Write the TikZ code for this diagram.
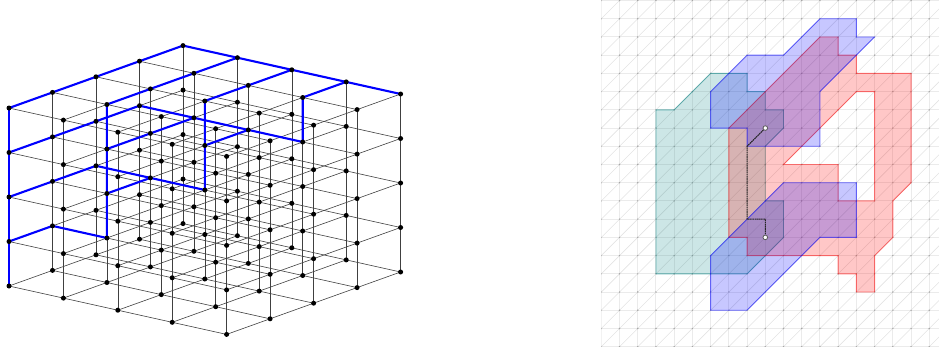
\documentclass[tikz,border=0pt]{standalone}
\tikzset{
  gridedge/.style={line width=0.6pt,draw=black!75},
  blueedge/.style={line width=2.1pt,draw=blue,line cap=round},
  dotnode/.style={circle,fill=black,inner sep=0pt,minimum size=5pt},
  mesh/.style={line width=1pt,draw=black!8},
  meshdiag/.style={line width=0.6pt,draw=black!11},
  tealpoly/.style={fill=teal,fill opacity=0.2,draw=teal,draw opacity=0.55,line width=0.9pt,line join=miter},
  redpoly/.style={fill=red,fill opacity=0.22,draw=red,draw opacity=0.5,line width=0.9pt,even odd rule},
  bluepoly/.style={fill=blue,fill opacity=0.22,draw=blue,draw opacity=0.55,line width=0.9pt},
  pathline/.style={line width=1pt,draw=black!85,dash pattern=on 1.6pt off 0.6pt},
  endnode/.style={circle,draw=black!65,fill=white,line width=0.8pt,inner sep=0pt,minimum size=4.6pt}
}
\begin{document}
\begin{tikzpicture}[x=1pt,y=-1pt]
\useasboundingbox (0,0) rectangle (939,351);
% ---------- left: 5x5x5 lattice ----------
\foreach \i in {0,...,4}\foreach \j in {0,...,4}\foreach \k in {0,...,4}{
  \pgfmathsetmacro{\px}{9+54.4*\i+43.5*\j}
  \pgfmathsetmacro{\py}{108+12.1*\i-15.6*\j+44.5*\k}
  \coordinate (c-\i-\j-\k) at (\px,\py);
}
\foreach \a in {0,...,4}\foreach \b in {0,...,4}{
  \draw[gridedge] (c-\a-\b-0) -- (c-\a-\b-4);
  \draw[gridedge] (c-\a-0-\b) -- (c-\a-4-\b);
  \draw[gridedge] (c-0-\a-\b) -- (c-4-\a-\b);
}
% blue edges
\draw[blueedge] (c-0-0-0) -- (c-0-4-0) -- (c-4-4-0);
\draw[blueedge] (c-0-0-0) -- (c-0-0-4);
\draw[blueedge] (c-1-1-3) -- (c-1-1-0) -- (c-1-4-0);
\draw[blueedge] (c-2-2-2) -- (c-2-2-0) -- (c-2-4-0);
\draw[blueedge] (c-3-4-0) -- (c-3-3-0) -- (c-3-3-1) -- (c-0-3-1) -- (c-0-0-1);
\draw[blueedge] (c-1-1-1) -- (c-1-3-1);
\draw[blueedge] (c-2-2-1) -- (c-2-3-1);
\draw[blueedge] (c-0-0-2) -- (c-0-2-2) -- (c-2-2-2);
\draw[blueedge] (c-1-1-2) -- (c-1-2-2);
\draw[blueedge] (c-0-0-3) -- (c-0-1-3) -- (c-1-1-3);
\foreach \i in {0,...,4}\foreach \j in {0,...,4}\foreach \k in {0,...,4}{
  \node[dotnode] (n-\i-\j-\k) at (c-\i-\j-\k) {};
}
% ---------- right: triangular mesh and polygons ----------
\begin{scope}[shift={(601.3,346.7)},x=18.22pt,y=18.22pt]
  \begin{scope}
    \clip (0,0) rectangle (18.6,19.1);
    \foreach \c in {-18,...,19}{
      \draw[meshdiag] (0,\c) -- (20,\c+20);
    }
    \foreach \i in {0,...,18}{ \draw[mesh] (\i,0) -- (\i,19.1); }
    \foreach \k in {0,...,19}{ \draw[mesh] (0,\k) -- (18.6,\k); }
    \foreach \i in {0,...,18}\foreach \k in {0,...,19}{
      \fill[black!35] (\i,\k) circle (0.8pt);
    }
  \end{scope}
  \path[tealpoly] (3,13) -- (4,13) -- (6,15) -- (8,15) -- (8,14) -- (9,14) -- (9,13) -- (10,13) -- (10,12) -- (9,11) -- (9,8) -- (10,8) -- (10,6) -- (8,4) -- (3,4) -- cycle;
  \path[redpoly] (12,17) -- (13,17) -- (13,16) -- (14,16) -- (14,15) -- (17,15) -- (17,9) -- (16,8) -- (16,6) -- (15,5) -- (15,3) -- (14,3) -- (14,4) -- (13,4) -- (13,5) -- (8,5) -- (8,6) -- (7,6) -- (7,12) -- cycle
     (14,14) -- (15,14) -- (15,8) -- (13,8) -- (13,10) -- (10,10) -- cycle;
  \path[bluepoly] (6,14) -- (8,16) -- (10,16) -- (12,18) -- (14,18) -- (14,17) -- (15,17) -- (12,14) -- (12,11) -- (8,11) -- (8,12) -- (6,12) -- cycle;
  \path[bluepoly] (6,5) -- (10,9) -- (14,9) -- (14,6) -- (12,6) -- (8,2) -- (6,2) -- cycle;
  \coordinate (q1) at (8,11);
  \coordinate (q2) at (8,7);
  \coordinate (q3) at (9,7);
  \node[endnode] (p1) at (9,12) {};
  \node[endnode] (p2) at (9,6) {};
  \draw[pathline] (p1) -- (q1) -- (q2) -- (q3) -- (p2);
\end{scope}
\end{tikzpicture}
\end{document}
